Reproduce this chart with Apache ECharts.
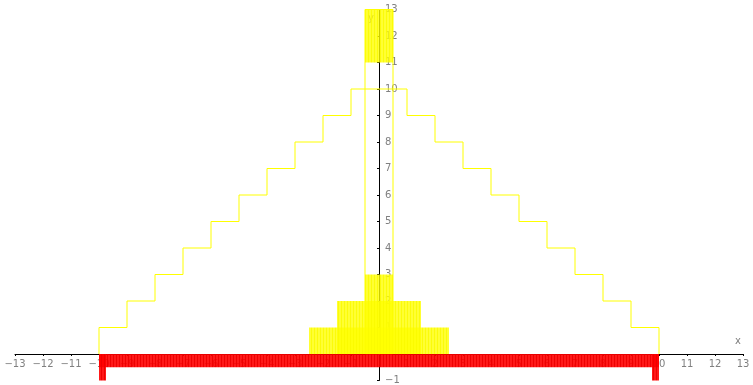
<!DOCTYPE html>
<html>
<head>
<meta charset="utf-8">
<script src="https://cdn.jsdelivr.net/npm/echarts@6/dist/echarts.min.js"></script>
<style>
  html, body { margin: 0; padding: 0; background: #ffffff; }
  #chart { width: 753px; height: 385px; }
</style>
</head>
<body>
<div id="chart"></div>
<script>
// Axis ranges and tick spacing
const xMin = -13, xMax = 13;
const yMin = -1, yMax = 13;

// Stepped outline: right-hand edge of each step and the height of the step ending there
const outlineStartX = -10;
const outlineX = [-10, -9, -8, -7, -6, -5, -4, -3, -2, -1, 1, 2, 3, 4, 5, 6, 7, 8, 9, 10];
const outlineY = [1, 2, 3, 4, 5, 6, 7, 8, 9, 10, 9, 8, 7, 6, 5, 4, 3, 2, 1, 0];

// Narrow central column outline
const columnLeft = -0.5, columnRight = 0.5, columnBottom = 0, columnTop = 13;

// Filled yellow blocks
const blockLeft = [-2.5, -1.5, -0.5, -0.5];
const blockRight = [2.5, 1.5, 0.5, 0.5];
const blockBottom = [0, 0, 0, 11];
const blockTop = [1, 2, 3, 13];

// Red base strip and its two end posts
const baseLeft = [-10, -10, 9.75];
const baseRight = [10, -9.75, 10];
const baseBottom = [-0.5, -1, -1];
const baseTop = [0, 0, 0];

const minus = s => String(s).replace('-', '\u2212');

const outlinePoints = [[outlineStartX, 0]].concat(outlineX.map((x, i) => [x, outlineY[i]]));
const blocks = blockLeft.map((l, i) => [l, blockRight[i], blockBottom[i], blockTop[i]]);
const bases = baseLeft.map((l, i) => [l, baseRight[i], baseBottom[i], baseTop[i]]);

// Plot area and where the two axes cross (at the origin)
const W = 753, H = 385;
const gridLeft = 15, gridRight = 10, gridTop = 9.5, gridBottom = 4.5;
const plotW = W - gridLeft - gridRight, plotH = H - gridTop - gridBottom;
const yAxisShift = -plotW * (0 - xMin) / (xMax - xMin);
const xAxisShift = -plotH * (0 - yMin) / (yMax - yMin);

function stripePattern(base, line) {
  const c = document.createElement('canvas');
  c.width = 3; c.height = 4;
  const g = c.getContext('2d');
  g.fillStyle = base; g.fillRect(0, 0, 3, 4);
  g.fillStyle = line; g.fillRect(2, 0, 1, 4);
  return { image: c, repeat: 'repeat' };
}

function rectRenderer(fill, stroke) {
  return function (params, api) {
    const p0 = api.coord([api.value(0), api.value(3)]);
    const p1 = api.coord([api.value(1), api.value(2)]);
    return {
      type: 'rect',
      shape: { x: p0[0], y: p0[1], width: p1[0] - p0[0], height: p1[1] - p0[1] },
      style: { fill: fill, stroke: stroke, lineWidth: stroke ? 1 : 0 }
    };
  };
}

const chart = echarts.init(document.getElementById('chart'), null, { renderer: 'canvas' });
const labelStyle = { color: '#808080', fontSize: 10, fontFamily: 'DejaVu Sans' };

chart.setOption({
  animation: false,
  grid: { left: gridLeft, right: gridRight, top: gridTop, bottom: gridBottom,
          containLabel: false, outerBoundsMode: 'none' },
  xAxis: {
    type: 'value', min: xMin, max: xMax, interval: 1,
    position: 'bottom', offset: xAxisShift,
    name: 'x', nameLocation: 'end', nameGap: -8,
    nameTextStyle: { color: '#808080', fontSize: 10, fontFamily: 'DejaVu Sans', verticalAlign: 'bottom', padding: [0, 0, 8, 0] },
    axisLine: { onZero: false, lineStyle: { color: '#000000', width: 1 } },
    axisTick: { show: true, length: 2, inside: false, lineStyle: { color: '#000000' } },
    axisLabel: Object.assign({ margin: 5, showMinLabel: true, showMaxLabel: true, hideOverlap: false,
      formatter: v => (v === 0 ? '' : minus(v)) }, labelStyle),
    splitLine: { show: false }
  },
  yAxis: {
    type: 'value', min: yMin, max: yMax, interval: 1,
    position: 'left', offset: yAxisShift,
    name: 'y', nameLocation: 'end', nameGap: -14,
    nameTextStyle: { color: '#808080', fontSize: 10, fontFamily: 'DejaVu Sans', align: 'right', padding: [0, 5, 0, 0] },
    axisLine: { onZero: false, lineStyle: { color: '#000000', width: 1 } },
    axisTick: { show: true, length: 2, inside: false, lineStyle: { color: '#000000' } },
    axisLabel: Object.assign({ inside: true, margin: 6, showMinLabel: true, showMaxLabel: true, hideOverlap: false,
      formatter: v => (v === 0 ? '' : minus(v)) }, labelStyle),
    splitLine: { show: false }
  },
  series: [
    {
      type: 'custom', name: 'blocks', z: 3,
      renderItem: rectRenderer(stripePattern('rgba(255,255,0,0.8)', 'rgba(250,250,0,0.8)'), null),
      data: blocks, clip: false
    },
    {
      type: 'line', name: 'outline', z: 4, step: 'end', showSymbol: false, symbol: 'none',
      lineStyle: { color: '#ffff00', width: 1 },
      data: outlinePoints
    },
    {
      type: 'custom', name: 'column', z: 4,
      renderItem: rectRenderer('none', '#ffff00'),
      data: [[columnLeft, columnRight, columnBottom, columnTop]], clip: false
    },
    {
      type: 'custom', name: 'base', z: 5,
      renderItem: rectRenderer(stripePattern('rgba(255,0,0,0.9)', 'rgba(236,0,0,0.9)'), null),
      data: bases, clip: false
    }
  ]
});
</script>
</body>
</html>
